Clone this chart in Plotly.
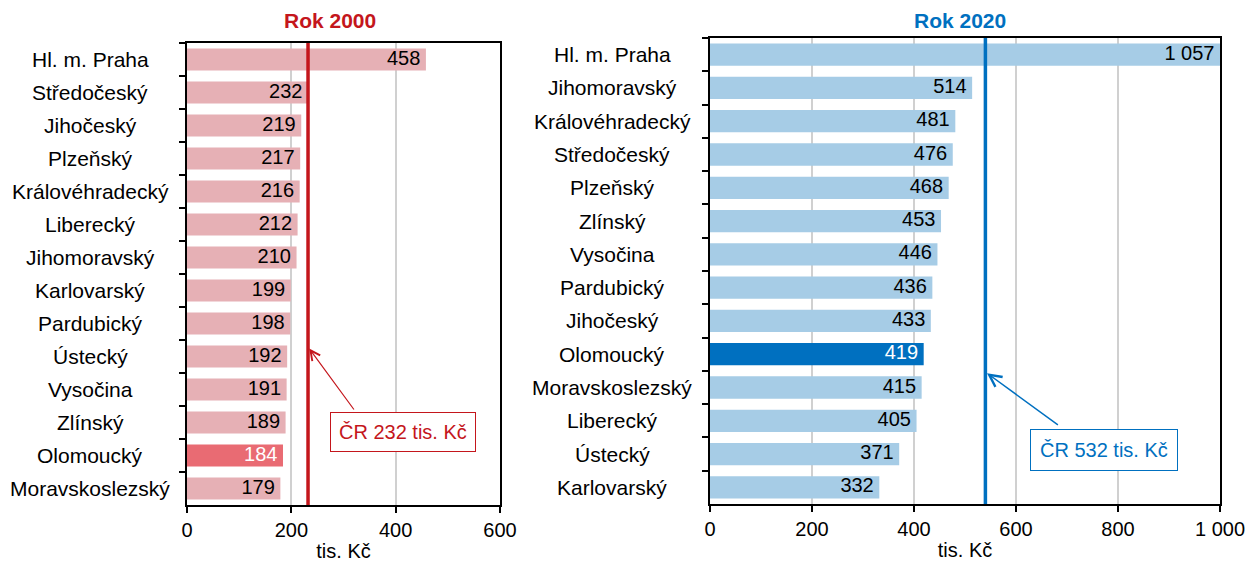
import plotly.graph_objects as go

# ---- data ----
regions_2000 = ["Hl. m. Praha", "Středočeský", "Jihočeský", "Plzeňský", "Královéhradecký",
                "Liberecký", "Jihomoravský", "Karlovarský", "Pardubický", "Ústecký",
                "Vysočina", "Zlínský", "Olomoucký", "Moravskoslezský"]
values_2000 = [458, 232, 219, 217, 216, 212, 210, 199, 198, 192, 191, 189, 184, 179]

regions_2020 = ["Hl. m. Praha", "Jihomoravský", "Královéhradecký", "Středočeský", "Plzeňský",
                "Zlínský", "Vysočina", "Pardubický", "Jihočeský", "Olomoucký",
                "Moravskoslezský", "Liberecký", "Ústecký", "Karlovarský"]
values_2020 = [1057, 514, 481, 476, 468, 453, 446, 436, 433, 419, 415, 405, 371, 332]

highlight = "Olomoucký"
cr_text = ["ČR 232 tis. Kč", "ČR 532 tis. Kč"]
cr_line = [232, 540]
titles = ["Rok 2000", "Rok 2020"]
x_ticks_2000 = [0, 200, 400, 600]
x_ticks_2020 = [0, 200, 400, 600, 800, 1000]
x_range_2000 = [0, 600]
x_range_2020 = [0, 1000]
x_title = "tis. Kč"

FONT = "Arial, Liberation Sans, sans-serif"
RED = "#C4161C"
BLUE = "#0070C0"
PINK = "#E6B0B5"
PINK_HI = "#E96B73"
LBLUE = "#A6CCE6"


def fmt(v):
    return f"{v:,}".replace(",", " ")


fig = go.Figure()


def add_panel(regions, values, xr, base_col, hi_col, xa, ya):
    fig.add_trace(go.Bar(
        x=values, y=regions, orientation="h",
        marker=dict(color=[hi_col if r == highlight else base_col for r in regions], line=dict(width=0)),
        xaxis=xa, yaxis=ya, showlegend=False, hoverinfo="skip",
    ))
    # value labels at the visible end of each bar
    fig.add_trace(go.Scatter(
        x=[min(v, xr[1]) for v in values], y=regions, mode="text",
        text=[fmt(v) + " " for v in values], textposition="middle left",
        textfont=dict(family=FONT, size=20, color=["white" if r == highlight else "black" for r in regions]),
        xaxis=xa, yaxis=ya, showlegend=False, hoverinfo="skip", cliponaxis=False,
    ))


add_panel(regions_2000, values_2000, x_range_2000, PINK, PINK_HI, "x", "y")
add_panel(regions_2020, values_2020, x_range_2020, LBLUE, BLUE, "x2", "y2")

W, H = 1245, 565
xdom1 = [187 / W, 500 / W]
xdom2 = [710 / W, 1220 / W]
ydom1 = [1 - 505 / H, 1 - 43 / H]
ydom2 = [1 - 504 / H, 1 - 38 / H]

xcommon = dict(showline=True, linecolor="black", linewidth=1.5, mirror=True,
               ticks="outside", ticklen=6, tickwidth=1.5, tickcolor="black",
               showgrid=True, gridcolor="#D0D0D0", gridwidth=1.5, zeroline=False,
               tickfont=dict(family=FONT, size=20, color="black"),
               separatethousands=True, automargin=False, ticklabeloverflow="allow",
               title=dict(text=x_title, font=dict(family=FONT, size=20, color="black"), standoff=4))
ycommon = dict(showline=True, linecolor="black", linewidth=1.5, mirror=True,
               ticks="outside", ticklen=6, tickwidth=1.5, tickcolor="black",
               tickson="boundaries", showticklabels=False, showgrid=False,
               automargin=False)

fig.update_layout(
    width=W, height=H,
    margin=dict(l=0, r=0, t=0, b=0),
    paper_bgcolor="white", plot_bgcolor="white",
    separators=", ",
    bargap=0.33,
    font=dict(family=FONT, size=20, color="black"),
    xaxis=dict(domain=xdom1, range=x_range_2000, tickvals=x_ticks_2000, anchor="y", **xcommon),
    yaxis=dict(domain=ydom1, anchor="x", categoryorder="array", categoryarray=regions_2000,
               range=[len(regions_2000) - 0.5, -0.5], **ycommon),
    xaxis2=dict(domain=xdom2, range=x_range_2020, tickvals=x_ticks_2020, anchor="y2", **xcommon),
    yaxis2=dict(domain=ydom2, anchor="x2", categoryorder="array", categoryarray=regions_2020,
                range=[len(regions_2020) - 0.5, -0.5], **ycommon),
)

# average lines
fig.add_shape(type="line", xref="x", yref="y domain", x0=cr_line[0], x1=cr_line[0], y0=0, y1=1,
              line=dict(color=RED, width=3.5), layer="above")
fig.add_shape(type="line", xref="x2", yref="y2 domain", x0=cr_line[1], x1=cr_line[1], y0=0, y1=1,
              line=dict(color=BLUE, width=3.5), layer="above")

ann = []
# category labels (centered, like the original)
for r in regions_2000:
    ann.append(dict(x=90 / W, xref="paper", y=r, yref="y", text=r, showarrow=False,
                    xanchor="center", yanchor="middle", font=dict(family=FONT, size=21, color="black")))
for r in regions_2020:
    ann.append(dict(x=612 / W, xref="paper", y=r, yref="y2", text=r, showarrow=False,
                    xanchor="center", yanchor="middle", font=dict(family=FONT, size=21, color="black")))

# titles
ann.append(dict(x=330 / W, y=1 - 20 / H, xref="paper", yref="paper", text=f"<b>{titles[0]}</b>",
                xanchor="center", yanchor="middle",
                showarrow=False, font=dict(family=FONT, size=21, color=RED)))
ann.append(dict(x=960 / W, y=1 - 20 / H, xref="paper", yref="paper", text=f"<b>{titles[1]}</b>",
                xanchor="center", yanchor="middle",
                showarrow=False, font=dict(family=FONT, size=21, color=BLUE)))

# arrows
ann.append(dict(x=cr_line[0], xref="x", y=(505 - 347) / 462, yref="y domain", text="",
                showarrow=True, arrowhead=5, arrowsize=1.6, arrowwidth=1.2, arrowcolor=RED,
                ax=47, ay=64, standoff=2))
ann.append(dict(x=cr_line[1], xref="x2", y=(504 - 372) / 466, yref="y2 domain", text="",
                showarrow=True, arrowhead=5, arrowsize=1.6, arrowwidth=1.5, arrowcolor=BLUE,
                ax=74, ay=54, standoff=2))

# boxes
ann.append(dict(x=403 / W, y=1 - 432 / H, xref="paper", yref="paper", text=cr_text[0], showarrow=False,
                xanchor="center", yanchor="middle",
                font=dict(family=FONT, size=20, color=RED), bgcolor="white", bordercolor=RED,
                borderwidth=1, borderpad=8))
ann.append(dict(x=1104 / W, y=1 - 450 / H, xref="paper", yref="paper", text=cr_text[1], showarrow=False,
                xanchor="center", yanchor="middle",
                font=dict(family=FONT, size=20, color=BLUE), bgcolor="white", bordercolor=BLUE,
                borderwidth=1, borderpad=9))

fig.update_layout(annotations=ann)

fig.write_html("out.html", config={"displayModeBar": False},
               post_script="document.body.style.margin='0';document.body.style.overflow='hidden';")
